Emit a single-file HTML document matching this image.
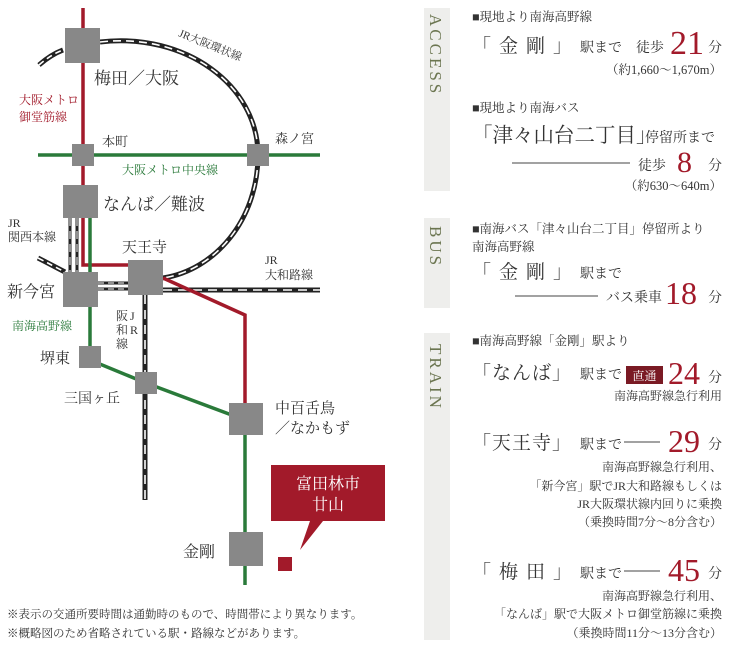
<!DOCTYPE html>
<html><head><meta charset="utf-8"><style>
html,body{margin:0;padding:0;background:#fff;width:730px;height:649px;overflow:hidden}
svg{display:block}
text{font-family:"Liberation Serif","Noto Serif CJK JP","Noto Serif CJK SC",serif;fill:#333}
.r{fill:#a21a2a}
</style></head><body>
<svg width="730" height="649" viewBox="0 0 730 649" xmlns="http://www.w3.org/2000/svg">
<g fill="none">
<path d="M100,42 C185,32 258,85 258,155 C258,220 215,270 163,278" stroke="#222" stroke-width="5"/>
<path d="M100,42 C185,32 258,85 258,155 C258,220 215,270 163,278" stroke="#fff" stroke-width="1.6" stroke-dasharray="8 5"/>
<path d="M39,65 C47,58 55,53 63,50" stroke="#222" stroke-width="5"/>
<path d="M39,65 C47,58 55,53 63,50" stroke="#fff" stroke-width="1.6" stroke-dasharray="6 4"/>
<path d="M38,258 C48,263 57,268 65,272" stroke="#222" stroke-width="5"/>
<path d="M38,258 C48,263 57,268 65,272" stroke="#fff" stroke-width="1.6" stroke-dasharray="6 4"/>
<path d="M70,218 V272 M77,218 V272" stroke="#222" stroke-width="3"/>
<path d="M70,218 V272 M77,218 V272" stroke="#fff" stroke-width="1" stroke-dasharray="8 5"/>
<path d="M98,283 H128 M98,289 H128" stroke="#222" stroke-width="3"/>
<path d="M98,283 H128 M98,289 H128" stroke="#fff" stroke-width="1" stroke-dasharray="6 4"/>
<path d="M163,290 H320" stroke="#222" stroke-width="5"/>
<path d="M163,290 H320" stroke="#fff" stroke-width="1.6" stroke-dasharray="9 6"/>
<path d="M145,295 V500" stroke="#222" stroke-width="5"/>
<path d="M145,295 V500" stroke="#fff" stroke-width="1.6" stroke-dasharray="9 6"/>
<path d="M83,8 V265 H128" stroke="#a21a2a" stroke-width="3.5"/>
<path d="M163,278 L245,315 V403" stroke="#a21a2a" stroke-width="3.5"/>
<path d="M38,155 H320" stroke="#2a7a3a" stroke-width="3.5"/>
<path d="M90,218 V272 M90,307 V360 L146,383 L245,420 V585" stroke="#2a7a3a" stroke-width="3.5"/>
</g>
<g fill="#888">
<rect x="65" y="28" width="35" height="35"/>
<rect x="72" y="144" width="22" height="22"/>
<rect x="247" y="144" width="22" height="22"/>
<rect x="63" y="185" width="35" height="33"/>
<rect x="63" y="272" width="35" height="35"/>
<rect x="128" y="260" width="35" height="35"/>
<rect x="79" y="346" width="22" height="22"/>
<rect x="135" y="372" width="22" height="22"/>
<rect x="229" y="403" width="34" height="32"/>
<rect x="229" y="532" width="34" height="34"/>
</g>
<path d="M271,465 H385 V521 H323 L300,550 L310,521 H271 Z" fill="#a21a2a"/>
<rect x="278" y="557" width="14" height="14" fill="#a21a2a"/>
<text x="328" y="489" font-size="16" text-anchor="middle" style="fill:#fff">富田林市</text>
<text x="328" y="510" font-size="16" text-anchor="middle" style="fill:#fff">廿山</text>
<text x="94" y="84" font-size="17">梅田／大阪</text>
<text x="178" y="36" font-size="11" transform="rotate(22 178 36)">JR大阪環状線</text>
<text x="19" y="104" font-size="12" class="r">大阪メトロ</text>
<text x="19" y="121" font-size="12" class="r">御堂筋線</text>
<text x="102" y="146" font-size="13">本町</text>
<text x="275" y="143" font-size="13">森ノ宮</text>
<text x="122" y="174" font-size="12" style="fill:#2a7a3a">大阪メトロ中央線</text>
<text x="103" y="210" font-size="17">なんば／難波</text>
<text x="8" y="227" font-size="12">JR</text>
<text x="8" y="241" font-size="12">関西本線</text>
<text x="122" y="252" font-size="15">天王寺</text>
<text x="265" y="264" font-size="12">JR</text>
<text x="265" y="279" font-size="12">大和路線</text>
<text x="7" y="297" font-size="16">新今宮</text>
<text x="12" y="330" font-size="12" style="fill:#2a7a3a">南海高野線</text>
<text x="116" y="320" font-size="12">阪</text>
<text x="116" y="334" font-size="12">和</text>
<text x="116" y="348" font-size="12">線</text>
<text x="130" y="320" font-size="12">J</text>
<text x="130" y="334" font-size="12">R</text>
<text x="40" y="363" font-size="15">堺東</text>
<text x="64" y="403" font-size="14">三国ヶ丘</text>
<text x="275" y="413" font-size="15">中百舌鳥</text>
<text x="275" y="433" font-size="15">／なかもず</text>
<text x="183" y="557" font-size="16">金剛</text>
<text x="7" y="618" font-size="11.5">※表示の交通所要時間は通勤時のもので、時間帯により異なります。</text>
<text x="7" y="637" font-size="11.5">※概略図のため省略されている駅・路線などがあります。</text>
<rect x="424" y="8" width="26" height="183" fill="#eeeeec"/>
<rect x="424" y="218" width="26" height="90" fill="#eeeeec"/>
<rect x="424" y="333" width="26" height="307" fill="#eeeeec"/>
<text x="430" y="14" font-size="17" transform="rotate(90 430 14)" style="fill:#6b7550;letter-spacing:3px">ACCESS</text>
<text x="430" y="226" font-size="17" transform="rotate(90 430 226)" style="fill:#6b7550;letter-spacing:3px">BUS</text>
<text x="430" y="344" font-size="17" transform="rotate(90 430 344)" style="fill:#6b7550;letter-spacing:3px">TRAIN</text>
<!-- ACCESS -->
<text x="472" y="21" font-size="12.5">■現地より南海高野線</text>
<text x="472" y="52" font-size="19" style="letter-spacing:8px">「金剛」</text>
<text x="580" y="52" font-size="14">駅まで</text>
<text x="636" y="52" font-size="14">徒歩</text>
<text x="670" y="54" font-size="34" class="r">21</text>
<text x="708" y="52" font-size="14">分</text>
<text x="722" y="74" font-size="12.5" text-anchor="end">（約1,660～1,670m）</text>
<text x="472" y="112" font-size="12.5">■現地より南海バス</text>
<text x="472" y="142" font-size="20.5">「津々山台二丁目」</text>
<text x="645" y="142" font-size="14">停留所まで</text>
<line x1="512" y1="163" x2="630" y2="163" stroke="#444" stroke-width="1"/>
<text x="638" y="170" font-size="14">徒歩</text>
<text x="677" y="172" font-size="30" class="r">8</text>
<text x="708" y="170" font-size="14">分</text>
<text x="722" y="190" font-size="12.5" text-anchor="end">（約630～640m）</text>
<!-- BUS -->
<text x="472" y="233" font-size="12.5">■南海バス「津々山台二丁目」停留所より</text>
<text x="472" y="251" font-size="12.5">南海高野線</text>
<text x="472" y="278" font-size="19" style="letter-spacing:8px">「金剛」</text>
<text x="580" y="278" font-size="14">駅まで</text>
<line x1="515" y1="296" x2="598" y2="296" stroke="#444" stroke-width="1"/>
<text x="606" y="302" font-size="14">バス乗車</text>
<text x="665" y="304" font-size="32" class="r">18</text>
<text x="708" y="302" font-size="14">分</text>
<!-- TRAIN -->
<text x="472" y="345" font-size="12.5">■南海高野線「金剛」駅より</text>
<text x="472" y="379" font-size="19" style="letter-spacing:1px">「なんば」</text>
<text x="580" y="379" font-size="14">駅まで</text>
<rect x="626" y="366" width="37" height="18" fill="#7a1a24"/>
<text x="644.5" y="380" font-size="12" text-anchor="middle" style="fill:#fff">直通</text>
<text x="668" y="384" font-size="32" class="r">24</text>
<text x="708" y="382" font-size="14">分</text>
<text x="722" y="400" font-size="12" text-anchor="end">南海高野線急行利用</text>
<text x="472" y="449" font-size="19" style="letter-spacing:1px">「天王寺」</text>
<text x="580" y="449" font-size="14">駅まで</text>
<line x1="624" y1="442" x2="660" y2="442" stroke="#444" stroke-width="1"/>
<text x="668" y="452" font-size="32" class="r">29</text>
<text x="708" y="449" font-size="14">分</text>
<text x="722" y="471" font-size="12" text-anchor="end">南海高野線急行利用、</text>
<text x="722" y="490" font-size="12" text-anchor="end">「新今宮」駅でJR大和路線もしくは</text>
<text x="722" y="508" font-size="12" text-anchor="end">JR大阪環状線内回りに乗換</text>
<text x="722" y="526" font-size="12" text-anchor="end">（乗換時間7分～8分含む）</text>
<text x="472" y="578" font-size="19" style="letter-spacing:8px">「梅田」</text>
<text x="580" y="578" font-size="14">駅まで</text>
<line x1="624" y1="571" x2="660" y2="571" stroke="#444" stroke-width="1"/>
<text x="668" y="581" font-size="32" class="r">45</text>
<text x="708" y="578" font-size="14">分</text>
<text x="722" y="600" font-size="12" text-anchor="end">南海高野線急行利用、</text>
<text x="722" y="618" font-size="12" text-anchor="end">「なんば」駅で大阪メトロ御堂筋線に乗換</text>
<text x="722" y="637" font-size="12" text-anchor="end">（乗換時間11分～13分含む）</text>
</svg>
</body></html>
